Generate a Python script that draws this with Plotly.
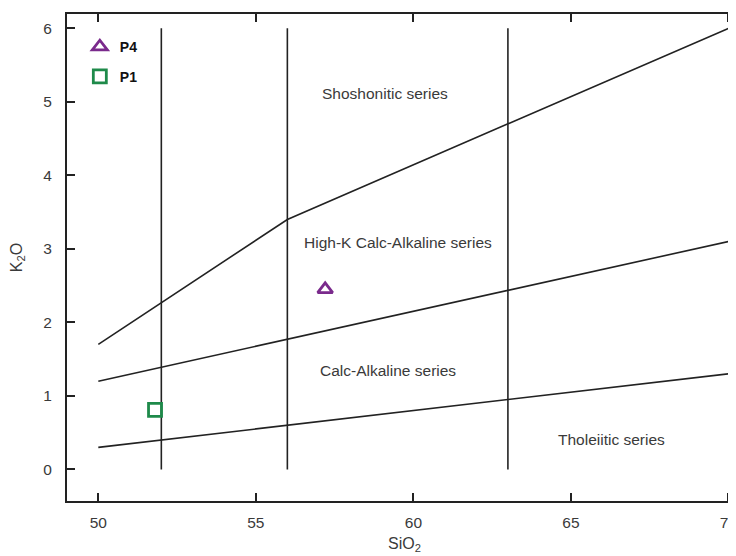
import plotly.graph_objects as go

# Boundary lines (Peccerillo & Taylor style)
thol_x = [50, 70]
thol_y = [0.3, 1.3]
calc_x = [50, 70]
calc_y = [1.2, 3.1]
shos_x = [50, 56, 70]
shos_y = [1.7, 3.4, 6.0]
vert_x = [52, 56, 63]
vert_y = [0, 6]

# Samples
p4_x = [57.2]
p4_y = [2.45]
p1_x = [51.8]
p1_y = [0.81]

labels = ["Shoshonitic series", "High-K Calc-Alkaline series", "Calc-Alkaline series", "Tholeiitic series"]
label_x = [59.09, 59.51, 59.21, 66.28]
label_y = [5.11, 3.08, 1.34, 0.40]

x_ticks = [50, 55, 60, 65, 70]
y_ticks = [0, 1, 2, 3, 4, 5, 6]

FONT = "Liberation Sans, Arial, sans-serif"
TXT = "#3a3a3a"
fig = go.Figure()

line_style = dict(color="#222222", width=1.6)
for xs, ys in [(thol_x, thol_y), (calc_x, calc_y), (shos_x, shos_y)]:
    fig.add_trace(go.Scatter(x=xs, y=ys, mode="lines", line=line_style,
                             showlegend=False, hoverinfo="skip"))
for vx in vert_x:
    fig.add_trace(go.Scatter(x=[vx, vx], y=vert_y, mode="lines", line=line_style,
                             showlegend=False, hoverinfo="skip"))

fig.add_trace(go.Scatter(x=p4_x, y=p4_y, mode="markers", name="<b>P4</b>",
                         marker=dict(symbol="triangle-up-open", size=13, color="#7a2a8c",
                                     line=dict(width=2.8, color="#7a2a8c")),
                         legend="legend"))
fig.add_trace(go.Scatter(x=p1_x, y=p1_y, mode="markers", name="<b>P1</b>",
                         marker=dict(symbol="square-open", size=13, color="#1e8a4a",
                                     line=dict(width=2.8, color="#1e8a4a")),
                         legend="legend2"))

for t, lx, ly in zip(labels, label_x, label_y):
    fig.add_annotation(x=lx, y=ly, text=t, showarrow=False,
                       font=dict(family=FONT, size=15.5, color=TXT))

axis_common = dict(showgrid=False, zeroline=False, showline=True, linecolor="#222222",
                   linewidth=2, ticks="inside", ticklen=8, tickwidth=1.5, tickcolor="#222222",
                   automargin=False, mirror="ticks",
                   tickfont=dict(family=FONT, size=15.5, color=TXT))

fig.update_xaxes(range=[49.006, 70.43], tickvals=x_ticks, ticklabelstandoff=6,
                 title=dict(text="SiO<sub>2</sub>", font=dict(family=FONT, size=16, color=TXT),
                            standoff=8),
                 **axis_common)
fig.update_yaxes(range=[-0.43, 6.195], tickvals=y_ticks, ticklabelstandoff=10,
                 title=dict(text="K<sub>2</sub>O", font=dict(family=FONT, size=16, color=TXT),
                            standoff=17),
                 **axis_common)

leg = dict(xanchor="left", yanchor="middle", bgcolor="rgba(0,0,0,0)",
           font=dict(family=FONT, size=14, color="#111111"), itemsizing="trace")
fig.update_layout(
    width=736, height=556,
    margin=dict(l=59, r=2, t=6, b=63),
    paper_bgcolor="white", plot_bgcolor="white",
    legend=dict(x=0.019, y=0.932, **leg),
    legend2=dict(x=0.019, y=0.871, **leg),
    font=dict(family=FONT),
)

fig.write_html("out.html")
